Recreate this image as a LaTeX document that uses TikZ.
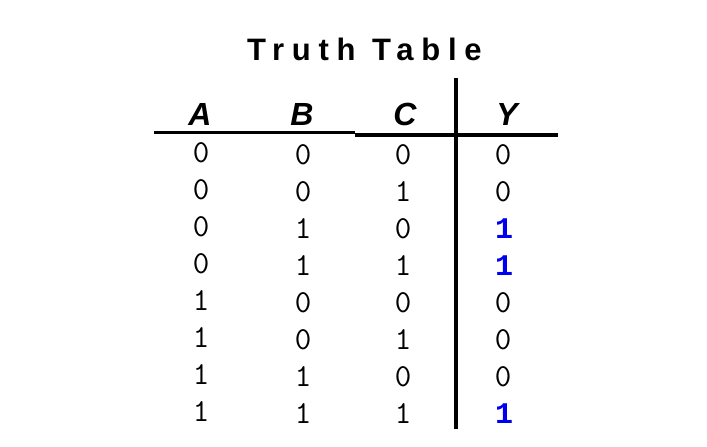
\documentclass[tikz,border=0pt]{standalone}
\usepackage{fontspec}
\setmainfont{Liberation Sans}
\newfontfamily\digitfont{Liberation Mono}
\newfontfamily\titlefont[LetterSpace=25]{Liberation Sans}
\definecolor{oneblue}{RGB}{0,0,240}
\begin{document}
\begin{tikzpicture}[x=1pt,y=-1pt,
  title/.style={font=\titlefont\fontsize{31}{31}\selectfont\bfseries, inner sep=0pt, anchor=base west},
  head/.style={font=\fontsize{32}{32}\selectfont\bfseries\itshape, inner sep=0pt, anchor=base},
  dig/.style={font=\ttfamily\fontsize{32}{32}\selectfont, inner sep=0pt, anchor=base},
  one/.style={font=\digitfont\fontsize{30}{30}\selectfont\bfseries, text=oneblue, inner sep=0pt, anchor=base},
  rule/.style={line width=3.2pt}]
\useasboundingbox (0,0) rectangle (707,447);
\node[title] (t) at (247,60) {Truth Table};
\node[head] (hA) at (200,125.5) {A};
\node[head] (hB) at (302,125.5) {B};
\node[head] (hC) at (405,125.5) {C};
\node[head] (hY) at (507,125.5) {Y};
\coordinate (l1) at (154,132.5);
\coordinate (l2) at (355,132.5);
\coordinate (r1) at (355,135);
\coordinate (r2) at (558,135);
\coordinate (v1) at (456,78);
\coordinate (v2) at (456,429);
\draw[rule] (l1) -- (l2);
\draw[rule] (r1) -- (r2);
\draw[rule] (v1) -- (v2);
\foreach \a/\b/\c/\y [count=\i from 0] in {0/0/0/0,0/0/1/0,0/1/0/1,0/1/1/1,1/0/0/0,1/0/1/0,1/1/0/0,1/1/1/1}{
  \pgfmathsetmacro\yb{164+37.1*\i}
  \node[dig] (a\i) at (201,\yb-2) {\a};
  \node[dig] (b\i) at (303,\yb) {\b};
  \node[dig] (c\i) at (403,\yb) {\c};
  \ifnum\y=1
    \node[one] (y\i) at (504,\yb) {1};
  \else
    \node[dig] (y\i) at (503,\yb) {0};
  \fi
}
\end{tikzpicture}
\end{document}
